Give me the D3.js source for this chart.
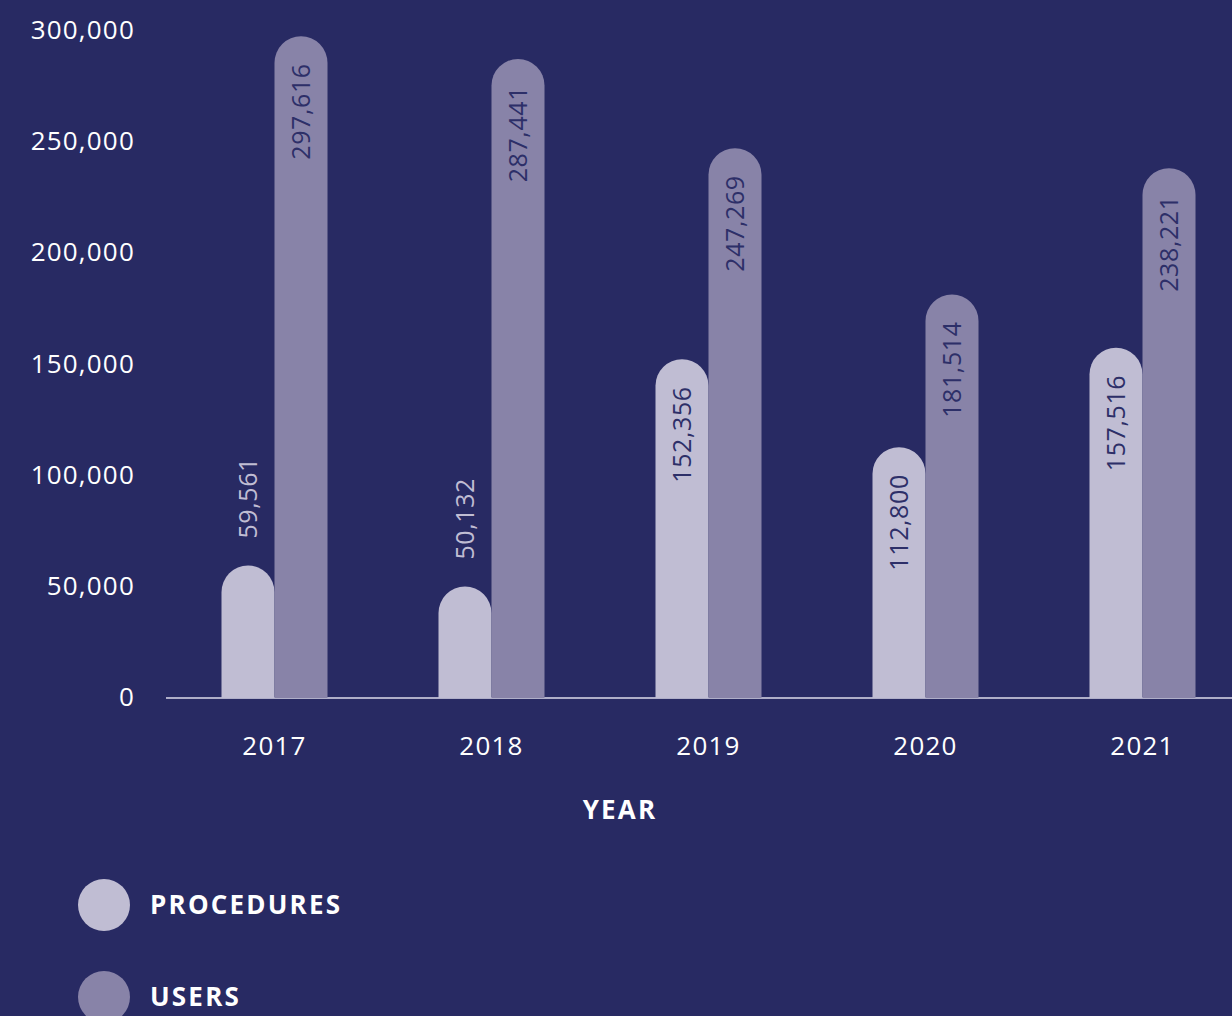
<!DOCTYPE html>
<html>
<head>
<meta charset="utf-8">
<script src="https://cdn.jsdelivr.net/npm/d3@7"></script>
<style>
  body { margin: 0; background: #282a63; }
  svg { display: block; font-family: "Open Sans", sans-serif; }
  .tick-label { fill: #ffffff; font-size: 26px; letter-spacing: 1.2px; }
  .bold-label { fill: #ffffff; font-size: 26px; font-weight: 700; letter-spacing: 2.2px; }
</style>
</head>
<body>
<div id="chart"></div>
<script>
var years = ["2017", "2018", "2019", "2020", "2021"];
var procedures = [59561, 50132, 152356, 112800, 157516];
var users = [297616, 287441, 247269, 181514, 238221];
var yTicks = [0, 50000, 100000, 150000, 200000, 250000, 300000];
var seriesNames = ["PROCEDURES", "USERS"];
var seriesColors = ["#c0bdd3", "#8883a8"];

var w = 1232;
var h = 1016;
var barW = 53;
var labelGap = 27;

var svg = d3.select("#chart")
  .append("svg")
  .attr("width", w)
  .attr("height", h);

svg.append("rect")
  .attr("width", w)
  .attr("height", h)
  .attr("fill", "#282a63");

var xScale = d3.scaleBand()
  .domain(years)
  .range([166, 1251]);

var xInner = d3.scaleBand()
  .domain([0, 1])
  .range([xScale.bandwidth() / 2 - barW, xScale.bandwidth() / 2 + barW]);

var yScale = d3.scaleLinear()
  .domain([0, 300000])
  .range([698, 31]);

var fmt = d3.format(",");

// y tick labels
svg.selectAll(".ytick")
  .data(yTicks)
  .enter()
  .append("text")
  .attr("class", "tick-label")
  .attr("x", 135)
  .attr("y", function(d) { return yScale(d) - 1; })
  .attr("dy", "0.35em")
  .attr("text-anchor", "end")
  .text(function(d) { return fmt(d); });

// baseline
svg.append("line")
  .attr("x1", 166)
  .attr("x2", w)
  .attr("y1", yScale(0))
  .attr("y2", yScale(0))
  .attr("stroke", "#dcdbea")
  .attr("stroke-width", 1.5);

// bars with a rounded top
var barPath = function(x, v) {
  var r = barW / 2;
  var y0 = yScale(0);
  var yt = yScale(v);
  return "M" + x + "," + y0 +
    "L" + x + "," + (yt + r) +
    "A" + r + "," + r + " 0 0 1 " + (x + barW) + "," + (yt + r) +
    "L" + (x + barW) + "," + y0 + "Z";
};

var rows = [];
years.forEach(function(y, i) {
  rows.push({ year: y, s: 0, value: procedures[i] });
  rows.push({ year: y, s: 1, value: users[i] });
});

var isInside = function(d) { return (yScale(0) - yScale(d.value)) > 150; };

var groups = svg.selectAll(".bar")
  .data(rows)
  .enter()
  .append("g")
  .attr("class", "bar");

groups.append("path")
  .attr("d", function(d) { return barPath(xScale(d.year) + xInner(d.s), d.value); })
  .attr("fill", function(d) { return seriesColors[d.s]; });

groups.append("text")
  .attr("transform", function(d) {
    var cx = xScale(d.year) + xInner(d.s) + barW / 2;
    var yy = isInside(d) ? yScale(d.value) + labelGap : yScale(d.value) - labelGap;
    return "translate(" + cx + "," + yy + ") rotate(-90)";
  })
  .attr("dy", "0.35em")
  .attr("text-anchor", function(d) { return isInside(d) ? "end" : "start"; })
  .attr("fill", function(d) { return isInside(d) ? "#2d2f68" : "#c0bdd3"; })
  .style("font-size", "25px")
  .style("letter-spacing", "0.6px")
  .text(function(d) { return fmt(d.value); });

// x labels
svg.selectAll(".xtick")
  .data(years)
  .enter()
  .append("text")
  .attr("class", "tick-label")
  .attr("x", function(d) { return xScale(d) + xScale.bandwidth() / 2; })
  .attr("y", 746)
  .attr("dy", "0.35em")
  .attr("text-anchor", "middle")
  .text(function(d) { return d; });

svg.append("text")
  .attr("class", "bold-label")
  .attr("x", 620)
  .attr("y", 810)
  .attr("dy", "0.35em")
  .attr("text-anchor", "middle")
  .text("YEAR");

// legend
var legend = svg.selectAll(".legend")
  .data(seriesNames)
  .enter()
  .append("g")
  .attr("class", "legend")
  .attr("transform", function(d, i) { return "translate(104," + (905 + i * 92) + ")"; });

legend.append("circle")
  .attr("r", 26)
  .attr("fill", function(d, i) { return seriesColors[i]; });

legend.append("text")
  .attr("class", "bold-label")
  .attr("x", 46)
  .attr("dy", "0.35em")
  .text(function(d) { return d; });
</script>
</body>
</html>
